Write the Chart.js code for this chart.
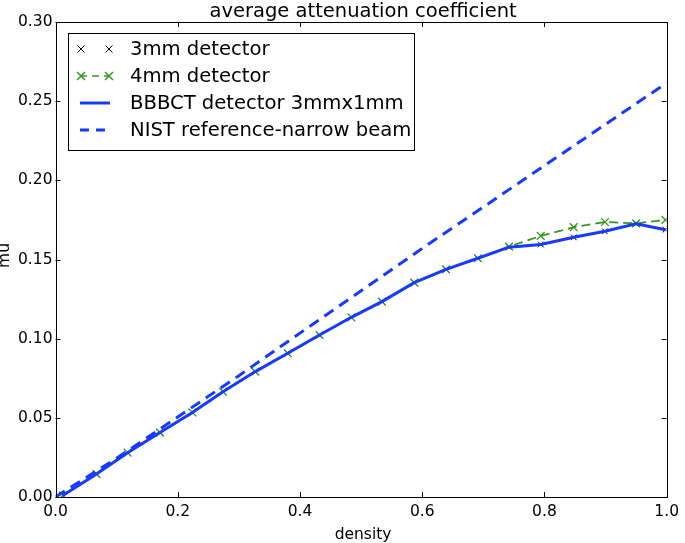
<!DOCTYPE html>
<html>
<head>
<meta charset="utf-8">
<script src="https://cdn.jsdelivr.net/npm/chart.js@4.4.1/dist/chart.umd.min.js"></script>
<style>
  html, body { margin: 0; padding: 0; background: #fff; }
  #wrap { width: 685px; height: 543px; }
</style>
</head>
<body>
<div id="wrap"><canvas id="myChart" width="685" height="543"></canvas></div>
<script>
// ----------- CONSTANT & VARIABLE ------------
const density = [0.012, 0.067, 0.118, 0.171, 0.224, 0.274, 0.327, 0.380, 0.432, 0.484,
                 0.534, 0.587, 0.639, 0.691, 0.742, 0.794, 0.848, 0.899, 0.950, 0.998];
const mu_4mm = [0.001, 0.0145, 0.0280, 0.0407, 0.0534, 0.0665, 0.0792, 0.0908, 0.1023, 0.1135,
                0.1234, 0.1354, 0.1438, 0.1508, 0.1581, 0.1649, 0.1704, 0.1737, 0.1728, 0.1750];
const mu_bbbct = [0.001, 0.0145, 0.0280, 0.0407, 0.0534, 0.0665, 0.0792, 0.0908, 0.1023, 0.1135,
                  0.1234, 0.1354, 0.1438, 0.1508, 0.1578, 0.1595, 0.1640, 0.1678, 0.1725, 0.1688];
// 3mm markers sit under the BBBCT line
const mu_3mm = [0.001, 0.0145, 0.0280, 0.0407, 0.0534, 0.0665, 0.0792, 0.0908, 0.1023, 0.1135,
                0.1234, 0.1354, 0.1438, 0.1508, 0.1578, 0.1595, 0.1640, 0.1678, 0.1725, 0.1688];
const nist_density = [0.0, 0.1, 0.2, 0.3, 0.4, 0.6, 0.8, 1.0];
const nist_mu = [0.0, 0.0245, 0.0505, 0.0766, 0.1035, 0.1570, 0.2093, 0.2615];

const x_ticks = [0.0, 0.2, 0.4, 0.6, 0.8, 1.0];
const y_ticks = [0.00, 0.05, 0.10, 0.15, 0.20, 0.25, 0.30];

const legend_items = ['3mm detector', '4mm detector', 'BBBCT detector 3mmx1mm', 'NIST reference-narrow beam'];

const BLUE = 'rgb(22,58,255)';
const GREEN = 'rgb(52,150,30)';
const FONT = '"DejaVu Sans", sans-serif';
var my_chart;

// ----------- HELPER FUNCTION -----------
function to_points(xs, ys){
  return xs.map((x, i) => ({x: x, y: ys[i]}));
}

function draw_cross(ctx, x, y, r){
  ctx.beginPath();
  ctx.moveTo(x - r, y - r); ctx.lineTo(x + r, y + r);
  ctx.moveTo(x - r, y + r); ctx.lineTo(x + r, y - r);
  ctx.stroke();
}

// frame, inward ticks, texts and the legend box
const decor_plugin = {
  id: 'decor',
  afterDraw(chart){
    const ctx = chart.ctx;
    const a = chart.chartArea;
    const xs = chart.scales.x;
    const ys = chart.scales.y;
    ctx.save();
    ctx.strokeStyle = '#000';
    ctx.lineWidth = 1;
    // ticks on all four sides, pointing in
    const tl = 5;
    ctx.beginPath();
    x_ticks.forEach(v => {
      const px = Math.round(xs.getPixelForValue(v)) + 0.5;
      ctx.moveTo(px, a.bottom); ctx.lineTo(px, a.bottom - tl);
      ctx.moveTo(px, a.top); ctx.lineTo(px, a.top + tl);
    });
    y_ticks.forEach(v => {
      const py = Math.round(ys.getPixelForValue(v)) + 0.5;
      ctx.moveTo(a.left, py); ctx.lineTo(a.left + tl, py);
      ctx.moveTo(a.right, py); ctx.lineTo(a.right - tl, py);
    });
    ctx.stroke();
    ctx.strokeRect(Math.round(a.left) + 0.5, Math.round(a.top) + 0.5,
                   Math.round(a.right - a.left), Math.round(a.bottom - a.top));

    // title and axis labels
    ctx.fillStyle = '#000';
    ctx.textAlign = 'center';
    ctx.textBaseline = 'alphabetic';
    ctx.font = '19.5px ' + FONT;
    ctx.fillText('average attenuation coefficient', (a.left + a.right) / 2 + 2, 17);
    ctx.font = '15.5px ' + FONT;
    ctx.fillText('density', (a.left + a.right) / 2 + 2, 539);
    ctx.save();
    ctx.translate(8.5, (a.top + a.bottom) / 2 - 4);
    ctx.rotate(-Math.PI / 2);
    ctx.fillText('mu', 0, 0);
    ctx.restore();

    // legend
    const bx = 68.5, by = 33.5, bw = 346, bh = 117;
    ctx.fillStyle = '#fff';
    ctx.fillRect(bx, by, bw, bh);
    ctx.strokeRect(bx, by, bw, bh);
    const rows = [49, 76, 103, 130];
    const x0 = 80, x1 = 110;
    // 3mm: black crosses only
    ctx.strokeStyle = '#000';
    ctx.lineWidth = 1;
    draw_cross(ctx, x0 + 1, rows[0], 3.5);
    draw_cross(ctx, x1 - 1, rows[0], 3.5);
    // 4mm: green dashed with crosses
    ctx.strokeStyle = GREEN;
    ctx.lineWidth = 1.5;
    ctx.setLineDash([7, 5]);
    ctx.beginPath(); ctx.moveTo(x0, rows[1]); ctx.lineTo(x1, rows[1]); ctx.stroke();
    ctx.setLineDash([]);
    draw_cross(ctx, x0 + 1, rows[1], 4);
    draw_cross(ctx, x1 - 1, rows[1], 4);
    // BBBCT: solid blue
    ctx.strokeStyle = BLUE;
    ctx.lineWidth = 3;
    ctx.beginPath(); ctx.moveTo(x0, rows[2]); ctx.lineTo(x1, rows[2]); ctx.stroke();
    // NIST: dashed blue
    ctx.setLineDash([9, 7]);
    ctx.beginPath(); ctx.moveTo(x0, rows[3]); ctx.lineTo(x1 - 2, rows[3]); ctx.stroke();
    ctx.setLineDash([]);
    ctx.fillStyle = '#000';
    ctx.textAlign = 'left';
    ctx.textBaseline = 'middle';
    ctx.font = '19.6px ' + FONT;
    legend_items.forEach((t, i) => ctx.fillText(t, 130, rows[i] + 1));
    ctx.restore();
  }
};

// ----------- INITIALIZATION ------------
function chart_layout(){
  const my_data = {
    datasets: [
      {
        label: legend_items[3],
        data: to_points(nist_density, nist_mu),
        borderColor: BLUE,
        borderWidth: 3,
        borderDash: [11, 7],
        pointRadius: 0,
        fill: false,
        tension: 0
      },
      {
        label: legend_items[2],
        data: to_points(density, mu_bbbct),
        borderColor: BLUE,
        borderWidth: 3,
        pointRadius: 0,
        fill: false,
        tension: 0
      },
      {
        label: legend_items[1],
        data: to_points(density, mu_4mm),
        borderColor: GREEN,
        borderWidth: 1.8,
        borderDash: [9, 5],
        pointStyle: 'crossRot',
        pointRadius: 5.5,
        pointBorderWidth: 1.3,
        pointBorderColor: GREEN,
        fill: false,
        tension: 0
      },
      {
        label: legend_items[0],
        data: to_points(density, mu_3mm),
        showLine: false,
        borderColor: '#000',
        pointStyle: 'crossRot',
        pointRadius: 4,
        pointBorderWidth: 1,
        pointBorderColor: '#000'
      }
    ]
  };

  my_chart = new Chart(document.getElementById('myChart'), {
    type: 'line',
    data: my_data,
    options: {
      responsive: false,
      animation: false,
      layout: { padding: { top: 22, right: 17, bottom: 0, left: 0 } },
      plugins: { legend: { display: false }, tooltip: { enabled: false }, title: { display: false } },
      scales: {
        x: {
          type: 'linear',
          min: 0, max: 1,
          afterFit: s => { s.height = 46; },
          afterBuildTicks: s => { s.ticks = x_ticks.map(v => ({value: v})); },
          grid: { display: false, drawTicks: false },
          border: { display: false },
          ticks: {
            padding: 6,
            color: '#000',
            font: { family: FONT, size: 15.5 },
            maxRotation: 0,
            callback: v => v.toFixed(1)
          }
        },
        y: {
          type: 'linear',
          min: 0, max: 0.30,
          afterFit: s => { s.width = 55.5; },
          afterBuildTicks: s => { s.ticks = y_ticks.map(v => ({value: v})); },
          grid: { display: false, drawTicks: false },
          border: { display: false },
          ticks: {
            padding: 3,
            color: '#000',
            font: { family: FONT, size: 15.5 },
            callback: v => v.toFixed(2)
          }
        }
      }
    },
    plugins: [decor_plugin]
  });
}

// ----------- MAIN FUNCTION ------------
function main(){
  console.log("Start - Create chart layout");
  chart_layout();
}

main();
</script>
</body>
</html>
